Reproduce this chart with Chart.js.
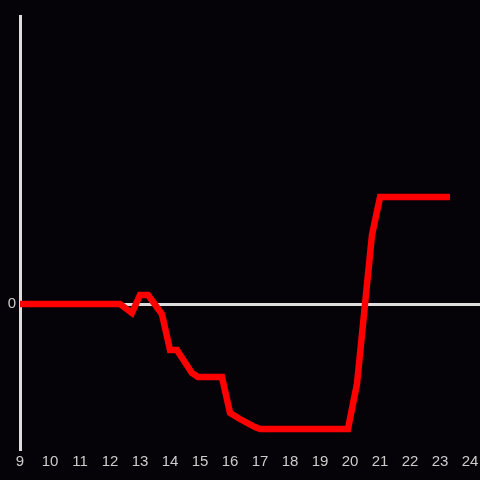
<!DOCTYPE html>
<html>
<head>
<meta charset="utf-8">
<script src="https://cdn.jsdelivr.net/npm/chart.js@4"></script>
<style>
  body { margin: 0; background: #050307; }
  #wrap { width: 480px; height: 480px; }
</style>
</head>
<body>
<div id="wrap"><canvas id="chart" width="480" height="480"></canvas></div>
<script>
// hour of day and value
const hours = [9, 12.33, 12.73, 13.0, 13.27, 13.73, 14.0, 14.23, 14.73, 14.93, 15.73, 16.0, 16.33, 16.83, 17.0, 19.93, 20.23, 20.73, 21.0, 23.33];
const values = [0, 0, -0.09, 0.09, 0.09, -0.1, -0.46, -0.46, -0.69, -0.73, -0.73, -1.09, -1.15, -1.23, -1.25, -1.25, -0.8, 0.69, 1.07, 1.07];
const xTicks = [9, 10, 11, 12, 13, 14, 15, 16, 17, 18, 19, 20, 21, 22, 23, 24];
const yTicks = [0];

const points = hours.map((h, i) => ({ x: h, y: values[i] }));

const bg = {
  id: 'bg',
  beforeDraw(chart) {
    const c = chart.ctx;
    c.save();
    c.fillStyle = '#050307';
    c.fillRect(0, 0, chart.width, chart.height);
    c.restore();
  }
};

new Chart(document.getElementById('chart').getContext('2d'), {
  type: 'line',
  data: {
    datasets: [{
      data: points,
      borderColor: '#ff0000',
      borderWidth: 6.5,
      pointRadius: 0,
      tension: 0,
      fill: false
    }]
  },
  options: {
    responsive: false,
    animation: false,
    layout: { padding: { top: 16, right: 0, left: 0, bottom: 0 } },
    plugins: { legend: { display: false }, tooltip: { enabled: false } },
    scales: {
      x: {
        type: 'linear',
        min: 9,
        max: 24.33,
        afterBuildTicks: s => { s.ticks = xTicks.map(v => ({ value: v })); },
        afterFit: s => { s.height = 31; s.paddingRight = 0; s.paddingLeft = 0; },
        grid: { display: false, drawTicks: false },
        border: { display: false },
        ticks: { color: '#cccccc', padding: 4, font: { family: 'Liberation Sans', size: 15 } }
      },
      y: {
        min: -1.45,
        max: 2.88,
        afterBuildTicks: s => { s.ticks = yTicks.map(v => ({ value: v })); },
        afterFit: s => { s.width = 20; },
        grid: { color: '#dddddd', lineWidth: 3, drawTicks: false },
        border: { color: '#dddddd', width: 3 },
        ticks: { color: '#cccccc', padding: 4, font: { family: 'Liberation Sans', size: 15 } }
      }
    }
  },
  plugins: [bg]
});
</script>
</body>
</html>
